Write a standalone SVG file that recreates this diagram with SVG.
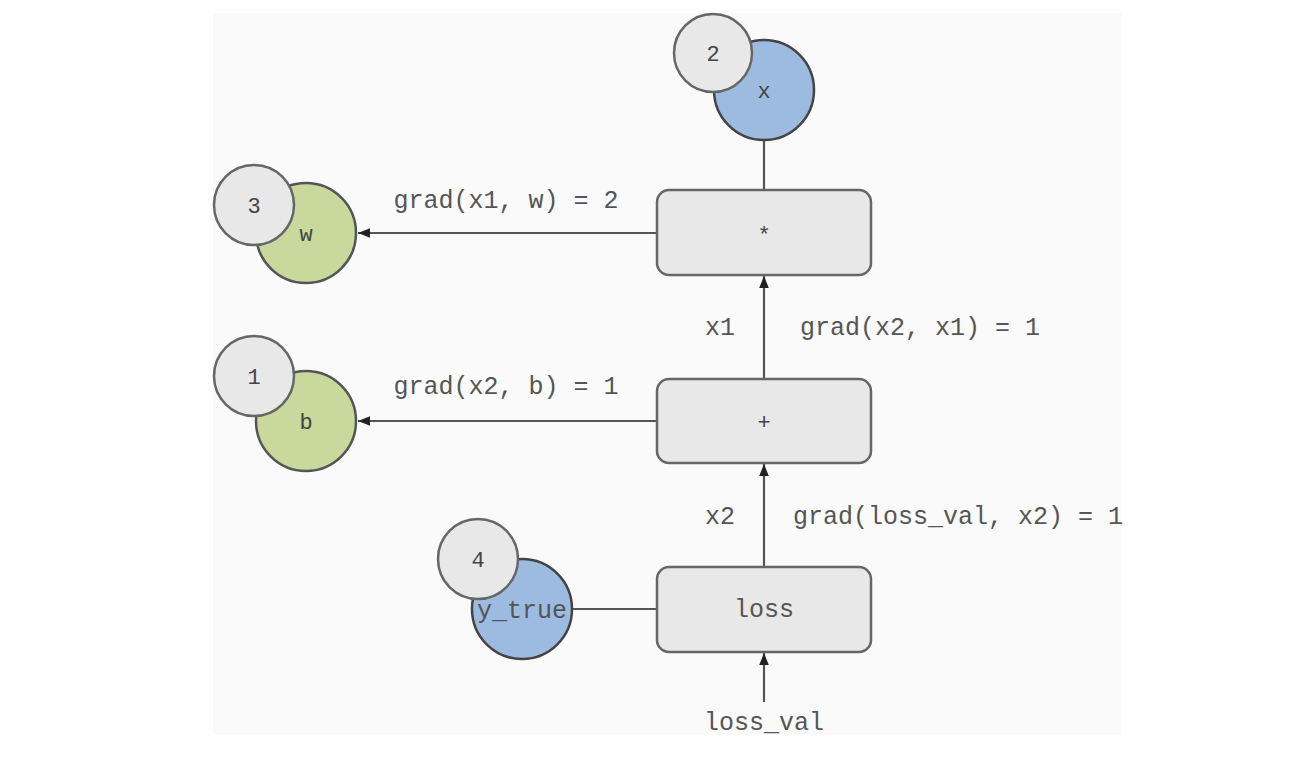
<svg xmlns="http://www.w3.org/2000/svg" width="1308" height="766" viewBox="0 0 1308 766">
<style>
.t{font-family:"Liberation Mono","Courier New",monospace;font-size:25px;fill:#555;text-anchor:middle}
.n{font-family:"Liberation Mono","Courier New",monospace;font-size:22px;fill:#444;text-anchor:middle}
.box{fill:#e8e8e8;stroke:#666;stroke-width:2.5}
.badge{fill:#e8e8e8;stroke:#666;stroke-width:2.5}
.blue{fill:#9dbbe1;stroke:#444;stroke-width:2.5}
.green{fill:#c9d89c;stroke:#555;stroke-width:2.5}
.c{stroke:#555;stroke-width:2.2;fill:none}
</style>
<defs>
<marker id="ah" viewBox="0 0 10 10" refX="10" refY="5" markerWidth="12" markerHeight="12" markerUnits="userSpaceOnUse" orient="auto">
<path d="M0,1 L10,5 L0,9 z" fill="#222"/>
</marker>
</defs>
<rect x="0" y="0" width="1308" height="766" fill="#fff"/>
<rect x="213" y="13" width="909" height="722" fill="#fafafa"/>
<g id="connectors">
<line class="c" x1="764" y1="140" x2="764" y2="190"/>
<line class="c" x1="657" y1="233" x2="358" y2="233" marker-end="url(#ah)"/>
<line class="c" x1="657" y1="421" x2="358" y2="421" marker-end="url(#ah)"/>
<line class="c" x1="764" y1="379" x2="764" y2="276" marker-end="url(#ah)"/>
<line class="c" x1="764" y1="567" x2="764" y2="464" marker-end="url(#ah)"/>
<line class="c" x1="572" y1="609" x2="657" y2="609"/>
<line class="c" x1="764" y1="702" x2="764" y2="653" marker-end="url(#ah)"/>
<text class="t" x="506" y="208">grad(x1, w) = 2</text>
<text class="t" x="506" y="394">grad(x2, b) = 1</text>
<text class="t" x="720" y="335">x1</text>
<text class="t" x="920" y="335">grad(x2, x1) = 1</text>
<text class="t" x="720" y="524">x2</text>
<text class="t" x="958" y="524">grad(loss_val, x2) = 1</text>
<text class="t" x="764" y="730">loss_val</text>
</g>
<g id="node-x">
<circle class="blue" cx="764" cy="90" r="50"/>
<text class="n" x="764" y="98">x</text>
</g>
<g id="badge-2">
<circle class="badge" cx="713" cy="53" r="39"/>
<text class="n" x="713" y="61">2</text>
</g>
<g id="node-mul">
<rect class="box" x="657" y="190" width="214" height="85" rx="12"/>
<text class="n" x="764" y="242">*</text>
</g>
<g id="node-w">
<circle class="green" cx="306" cy="233" r="50"/>
<text class="n" x="306" y="241">w</text>
</g>
<g id="badge-3">
<circle class="badge" cx="254" cy="205" r="40"/>
<text class="n" x="254" y="213">3</text>
</g>
<g id="node-add">
<rect class="box" x="657" y="379" width="214" height="84" rx="12"/>
<text class="n" x="764" y="429">+</text>
</g>
<g id="node-b">
<circle class="green" cx="306" cy="421" r="50"/>
<text class="n" x="306" y="429">b</text>
</g>
<g id="badge-1">
<circle class="badge" cx="254" cy="376" r="40"/>
<text class="n" x="254" y="384">1</text>
</g>
<g id="node-loss">
<rect class="box" x="657" y="567" width="214" height="85" rx="12"/>
<text class="t" x="764" y="617">loss</text>
</g>
<g id="node-y_true">
<circle class="blue" cx="522" cy="609" r="50"/>
<text class="t" x="522" y="618">y_true</text>
</g>
<g id="badge-4">
<circle class="badge" cx="478" cy="559" r="40"/>
<text class="n" x="478" y="567">4</text>
</g>
</svg>
